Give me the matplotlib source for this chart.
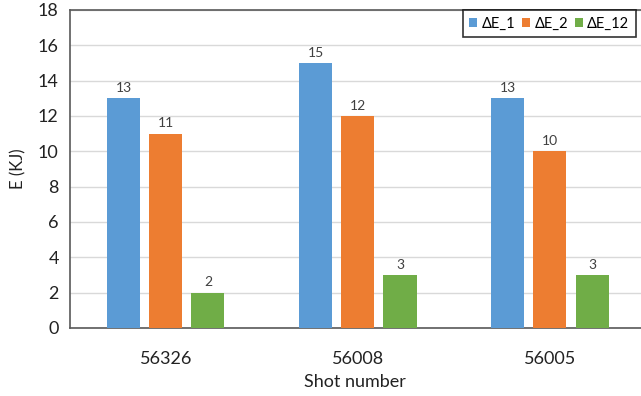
import numpy as np
import matplotlib.pyplot as plt

shots = ["56326", "56008", "56005"]
de_1 = [13, 15, 13]
de_2 = [11, 12, 10]
de_12 = [2, 3, 3]
series_labels = ["ΔE_1", "ΔE_2", "ΔE_12"]
colors = ["#5B9BD5", "#ED7D31", "#70AD47"]

plt.rcParams['font.family'] = ['Lato', 'DejaVu Sans']

fig = plt.figure(figsize=(6.41, 3.96), dpi=100)
ax = fig.add_axes([0.109, 0.172, 0.891, 0.803])

x = np.arange(len(shots))
width = 0.172
step = 0.219

for i, (vals, lab, col) in enumerate(zip([de_1, de_2, de_12], series_labels, colors)):
    bars = ax.bar(x + (i - 1) * step, vals, width, color=col, label=lab, zorder=3)
    ax.bar_label(bars, padding=3, fontsize=10, color="#404040")

ax.set_xlim(-0.5, 2.474)
ax.set_ylim(0, 18)
ax.set_yticks(np.arange(0, 19, 2))
ax.set_xticks(x)
ax.set_xticklabels(shots)
ax.tick_params(axis='both', length=0, labelsize=13, colors="#222222")
ax.tick_params(axis='x', pad=17)
ax.tick_params(axis='y', pad=8)

ax.grid(axis='y', color="#d9d9d9", linewidth=1, zorder=0)
for s in ['left', 'bottom', 'top']:
    ax.spines[s].set_color("#595959")
    ax.spines[s].set_linewidth(1.2)
ax.spines['right'].set_visible(False)

ax.set_xlabel("Shot number", fontsize=13, color="#222222", labelpad=5)
ax.set_ylabel("E (KJ)", fontsize=12, color="#222222", labelpad=8)

leg = ax.legend(loc='upper left', bbox_to_anchor=(0.688, 1.0), ncol=3,
                fontsize=10.5, frameon=True, fancybox=False, handlelength=0.55,
                handleheight=0.55, handletextpad=0.3, columnspacing=0.45,
                borderaxespad=0, borderpad=0.45)
leg.get_frame().set_edgecolor("black")
leg.get_frame().set_linewidth(1.2)
leg.set_zorder(5)

fig.savefig("out.png", dpi=100)
